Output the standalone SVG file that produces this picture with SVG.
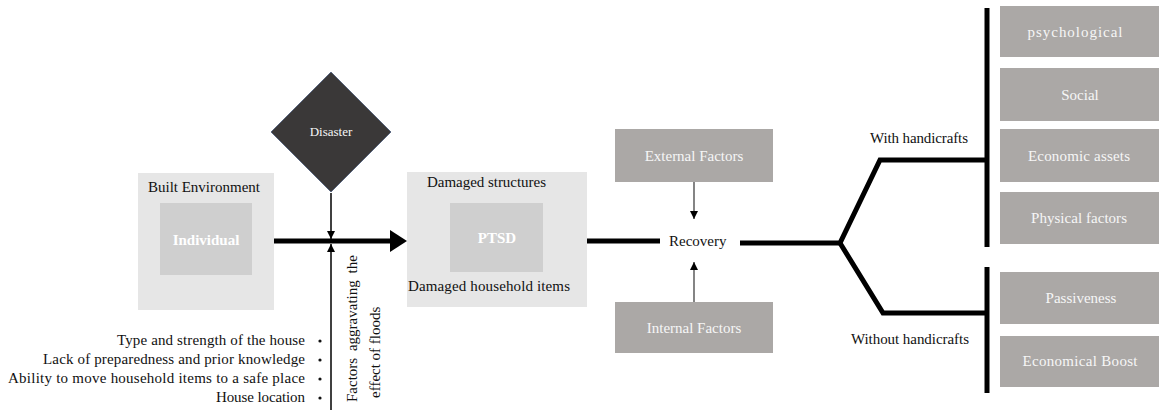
<svg xmlns="http://www.w3.org/2000/svg" width="1160" height="410" viewBox="0 0 1160 410">
<style>
text{font-family:"Liberation Serif","Times New Roman",serif;}
.lbl{font-size:15px;fill:#111;}
.wt{font-size:15px;fill:#f6f6f6;text-anchor:middle;}
.bold{font-size:15px;font-weight:bold;fill:#fff;text-anchor:middle;}
.light{fill:#e6e6e6;}
.inner{fill:#cfcfcf;}
.grey{fill:#aba8a6;}
.thick{stroke:#000;stroke-width:5;fill:none;stroke-linejoin:miter;}
.thin{stroke:#000;stroke-width:1.5;fill:none;}
.bar{stroke:#000;stroke-width:5;}
</style>
<defs>
<marker id="small" viewBox="0 0 10 10" refX="10" refY="5" markerWidth="8" markerHeight="8" orient="auto" markerUnits="userSpaceOnUse">
<path d="M0,0 L10,5 L0,10 z" fill="#000"/>
</marker>
</defs>

<g id="built-environment">
<rect class="light" x="138" y="173" width="136" height="137"/>
<text class="lbl" x="204" y="192" text-anchor="middle">Built  Environment</text>
<rect class="inner" x="160" y="203" width="92" height="72"/>
<text class="bold" x="206" y="245">Individual</text>
</g>

<g id="disaster">
<polygon points="331,72 391,132 331,192 271,132" fill="#3a3838" stroke="#4a5a7a" stroke-width="0.8"/>
<text class="wt" x="331" y="136" style="font-size:13px">Disaster</text>
</g>

<g id="damaged">
<rect class="light" x="407" y="172" width="180" height="135"/>
<text class="lbl" x="427" y="187" textLength="119" lengthAdjust="spacing">Damaged  structures</text>
<rect class="inner" x="450" y="203" width="93" height="69"/>
<text class="bold" x="497" y="243">PTSD</text>
<text class="lbl" x="408" y="291" textLength="162" lengthAdjust="spacing">Damaged  household  items</text>
</g>

<g id="factors-list">
<text class="lbl" x="117" y="345" textLength="188" lengthAdjust="spacing">Type and strength  of the house</text>
<text class="lbl" x="43" y="364" textLength="262" lengthAdjust="spacing">Lack of preparedness  and prior knowledge</text>
<text class="lbl" x="8" y="383" textLength="297" lengthAdjust="spacing">Ability  to move household  items  to a safe place</text>
<text class="lbl" x="216" y="402" textLength="89" lengthAdjust="spacing">House location</text>
<g fill="#111">
<circle cx="320" cy="341" r="1.6"/>
<circle cx="320" cy="360" r="1.6"/>
<circle cx="320" cy="379" r="1.6"/>
<circle cx="320" cy="398" r="1.6"/>
</g>
</g>

<g id="aggravating-label">
<text class="lbl" transform="translate(357,402) rotate(-90)" word-spacing="3">Factors aggravating the</text>
<text class="lbl" transform="translate(380,398) rotate(-90)">effect of floods</text>
</g>

<g id="recovery">
<text class="lbl" x="669" y="246">Recovery</text>
</g>

<g id="external-factors">
<rect class="grey" x="615" y="129" width="158" height="53"/>
<text class="wt" x="694" y="161">External  Factors</text>
</g>

<g id="internal-factors">
<rect class="grey" x="615" y="302" width="158" height="51"/>
<text class="wt" x="694" y="333">Internal  Factors</text>
</g>

<g id="outcomes-with">
<rect class="grey" x="1000" y="6" width="159" height="51"/>
<text class="wt" x="1075" y="37" textLength="95" lengthAdjust="spacing">psychological</text>
<rect class="grey" x="1000" y="68" width="159" height="53"/>
<text class="wt" x="1080" y="100">Social</text>
<rect class="grey" x="1000" y="129" width="159" height="53"/>
<text class="wt" x="1079" y="161" textLength="102" lengthAdjust="spacing">Economic  assets</text>
<rect class="grey" x="1000" y="192" width="159" height="52"/>
<text class="wt" x="1079" y="223" textLength="96" lengthAdjust="spacing">Physical  factors</text>
</g>

<g id="outcomes-without">
<rect class="grey" x="1000" y="272" width="159" height="52"/>
<text class="wt" x="1081" y="303">Passiveness</text>
<rect class="grey" x="1000" y="336" width="159" height="51"/>
<text class="wt" x="1080" y="366" textLength="115" lengthAdjust="spacing">Economical  Boost</text>
</g>

<g id="branch-labels">
<text class="lbl" x="870" y="143" textLength="98" lengthAdjust="spacing">With  handicrafts</text>
<text class="lbl" x="851" y="344" textLength="118" lengthAdjust="spacing">Without  handicrafts</text>
</g>

<g id="connectors">
<line x1="274" y1="241" x2="392" y2="241" stroke="#000" stroke-width="5"/>
<path d="M390,230 L407,241 L390,252 z" fill="#000"/>
<line class="thin" x1="331" y1="193" x2="331" y2="239" marker-end="url(#small)"/>
<line class="thin" x1="331" y1="410" x2="331" y2="244" marker-end="url(#small)"/>
<line x1="587" y1="241" x2="660" y2="241" stroke="#000" stroke-width="5"/>
<line x1="694" y1="182" x2="694" y2="219" stroke="#333" stroke-width="1.2" marker-end="url(#small)"/>
<line x1="694" y1="302" x2="694" y2="262" stroke="#333" stroke-width="1.2" marker-end="url(#small)"/>
<path class="thick" d="M740,243 L840,243 L880,160 L987,160"/>
<path class="thick" d="M840,243 L883,313 L987,313"/>
<line class="bar" x1="987" y1="8" x2="987" y2="247"/>
<line class="bar" x1="987" y1="267" x2="987" y2="393"/>
</g>
</svg>
